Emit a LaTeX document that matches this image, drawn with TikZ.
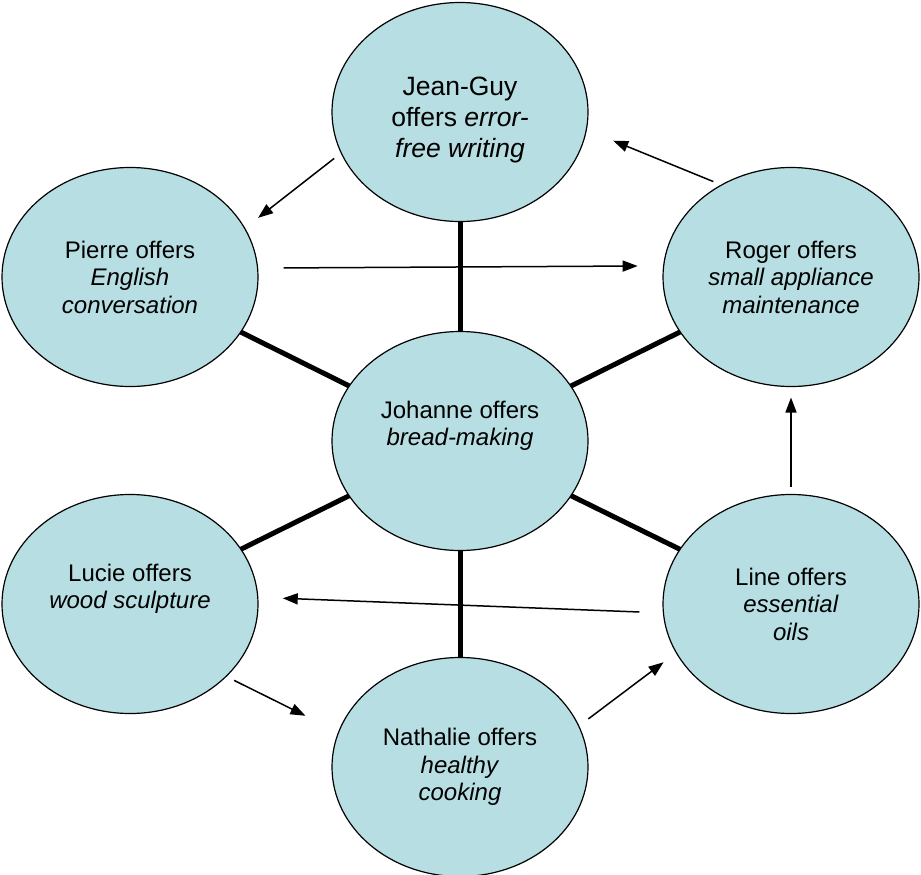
\documentclass[tikz,border=0pt]{standalone}
\usepackage{fontspec}
\setmainfont{Liberation Sans}
\usetikzlibrary{shapes.geometric,arrows.meta}
\definecolor{offerblue}{RGB}{183,222,226}
\tikzset{
  offer/.style={ellipse,draw,line width=1.2bp,fill=offerblue,
    minimum width=256bp,minimum height=219bp,inner sep=0pt,outer sep=0pt,
    align=center,font=\fontsize{24bp}{27.5bp}\selectfont},
  spoke/.style={line width=5bp},
  pass/.style={line width=1.5bp,-{Triangle[length=15bp,width=11bp]}}
}
\begin{document}
\begin{tikzpicture}[x=1bp,y=-1bp]
    \useasboundingbox (0,0) rectangle (921,875);
    % Centre
    \node[offer] (johanne) at (460,441) {Johanne offers\\\textit{bread-making}\\\strut};
    % Ring
    \node[offer,font=\fontsize{26.5bp}{31bp}\selectfont] (jeanguy) at (460,112) {\rule{0pt}{35bp}Jean-Guy\\offers \textit{error-}\\\textit{free writing}};
    \node[offer] (roger) at (791,277) {Roger offers\\\textit{small appliance}\\\textit{maintenance}};
    \node[offer] (line) at (791,604) {Line offers\\\textit{essential}\\\textit{oils}};
    \node[offer] (nathalie) at (460,767) {Nathalie offers\\\textit{healthy}\\\textit{cooking}};
    \node[offer] (lucie) at (130,604) {Lucie offers\\\textit{wood sculpture}\\\strut};
    \node[offer] (pierre) at (130,277) {Pierre offers\\\textit{English}\\\textit{conversation}};
    % Spokes
    \foreach \n in {jeanguy,roger,line,nathalie,lucie,pierre} {\draw[spoke] (johanne) -- (\n);}
    % Exchanges
    \draw[pass,shorten <=9bp,shorten >=17bp] (jeanguy.199.5) -- (pierre.23.7);
    \draw[pass,shorten <=26bp,shorten >=26bp] (pierre.4.9) -- (roger.175.1);
    \draw[pass,shorten <=9bp,shorten >=29bp] (roger.127.1) -- (jeanguy.-8.4);
    \draw[pass,shorten <=8bp,shorten >=11bp] (line.north) -- (roger.south);
    \draw[pass,shorten <=24bp,shorten >=25bp] (line.184.9) -- (lucie.3.4);
    \draw[pass,shorten <=9bp,shorten >=37bp] (lucie.-37.8) -- (nathalie.164);
    \draw[pass,shorten <=12bp,shorten >=16bp] (nathalie.19.1) -- (line.203.5);
\end{tikzpicture}
\end{document}
